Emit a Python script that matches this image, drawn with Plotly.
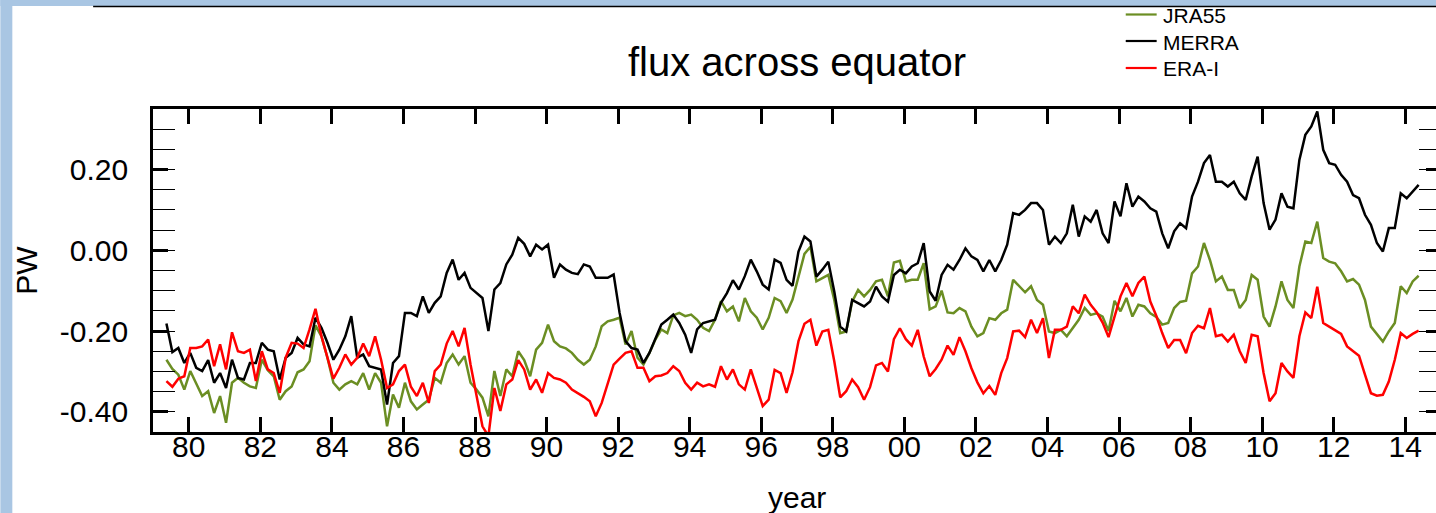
import plotly.graph_objects as go

# Cross-equatorial energy flux (PW), bimonthly samples starting mid-May 1979
years_start = 1979 + 4.5 / 12
years_step = 2 / 12

merra = [
    -0.181, -0.252, -0.242, -0.279, -0.254, -0.291, -0.299, -0.272, -0.328, -0.304,
    -0.341, -0.271, -0.316, -0.320, -0.279, -0.279, -0.229, -0.246, -0.250, -0.320,
    -0.266, -0.254, -0.217, -0.233, -0.238, -0.167, -0.192, -0.229, -0.271, -0.246,
    -0.213, -0.163, -0.266, -0.258, -0.287, -0.291, -0.295, -0.382, -0.279, -0.262,
    -0.155, -0.155, -0.163, -0.114, -0.155, -0.130, -0.114, -0.056, -0.023, -0.073,
    -0.056, -0.093, -0.105, -0.118, -0.200, -0.097, -0.081, -0.035, -0.011, 0.031,
    0.016, -0.015, 0.014, 0.002, 0.014, -0.068, -0.035, -0.048, -0.056, -0.059,
    -0.035, -0.040, -0.068, -0.068, -0.068, -0.060, -0.155, -0.225, -0.242, -0.246,
    -0.279, -0.254, -0.221, -0.184, -0.172, -0.159, -0.180, -0.209, -0.254, -0.196,
    -0.180, -0.176, -0.172, -0.130, -0.106, -0.074, -0.097, -0.064, -0.023, -0.052,
    -0.085, -0.097, -0.023, -0.031, -0.073, -0.088, -0.003, 0.034, 0.022, -0.065,
    -0.048, -0.028, -0.102, -0.189, -0.201, -0.123, -0.131, -0.139, -0.127, -0.090,
    -0.114, -0.127, -0.061, -0.048, -0.057, -0.040, -0.032, 0.018, -0.102, -0.125,
    -0.061, -0.036, -0.048, -0.024, 0.005, -0.015, -0.024, -0.052, -0.024, -0.052,
    -0.024, 0.014, 0.092, 0.088, 0.100, 0.117, 0.117, 0.100, 0.014, 0.034,
    0.018, 0.042, 0.113, 0.034, 0.084, 0.071, 0.100, 0.042, 0.018, 0.121,
    0.084, 0.166, 0.108, 0.133, 0.121, 0.104, 0.096, 0.042, 0.005, 0.047,
    0.067, 0.055, 0.133, 0.170, 0.216, 0.236, 0.170, 0.170, 0.158, 0.170,
    0.141, 0.125, 0.183, 0.232, 0.117, 0.051, 0.076, 0.141, 0.108, 0.104,
    0.224, 0.286, 0.307, 0.344, 0.249, 0.216, 0.212, 0.187, 0.170, 0.137,
    0.129, 0.088, 0.063, 0.018, -0.003, 0.055, 0.055, 0.141, 0.129, 0.146,
    0.162,
]

jra55 = [
    -0.271, -0.294, -0.308, -0.345, -0.299, -0.328, -0.361, -0.349, -0.403, -0.361,
    -0.427, -0.328, -0.316, -0.328, -0.337, -0.341, -0.271, -0.297, -0.312, -0.370,
    -0.349, -0.337, -0.302, -0.295, -0.275, -0.186, -0.213, -0.266, -0.328, -0.345,
    -0.332, -0.324, -0.332, -0.304, -0.345, -0.304, -0.328, -0.436, -0.357, -0.390,
    -0.328, -0.374, -0.394, -0.382, -0.370, -0.316, -0.328, -0.279, -0.258, -0.283,
    -0.262, -0.328, -0.345, -0.365, -0.411, -0.299, -0.361, -0.295, -0.312, -0.250,
    -0.272, -0.312, -0.246, -0.229, -0.184, -0.225, -0.238, -0.243, -0.254, -0.271,
    -0.283, -0.271, -0.238, -0.188, -0.176, -0.172, -0.167, -0.233, -0.200, -0.266,
    -0.283, -0.254, -0.221, -0.196, -0.205, -0.161, -0.155, -0.163, -0.159, -0.172,
    -0.192, -0.200, -0.172, -0.126, -0.151, -0.139, -0.176, -0.118, -0.151, -0.167,
    -0.196, -0.167, -0.118, -0.126, -0.155, -0.122, -0.062, -0.009, 0.009, -0.077,
    -0.069, -0.061, -0.123, -0.205, -0.201, -0.127, -0.098, -0.114, -0.098, -0.077,
    -0.073, -0.114, -0.030, -0.026, -0.077, -0.073, -0.073, -0.032, -0.146, -0.139,
    -0.100, -0.154, -0.156, -0.143, -0.151, -0.189, -0.213, -0.205, -0.168, -0.172,
    -0.156, -0.147, -0.073, -0.089, -0.104, -0.089, -0.123, -0.135, -0.201, -0.205,
    -0.197, -0.213, -0.193, -0.172, -0.143, -0.160, -0.156, -0.164, -0.200, -0.125,
    -0.151, -0.118, -0.164, -0.135, -0.139, -0.156, -0.165, -0.184, -0.180, -0.143,
    -0.128, -0.125, -0.057, -0.040, 0.018, -0.024, -0.077, -0.065, -0.098, -0.098,
    -0.143, -0.123, -0.061, -0.073, -0.164, -0.189, -0.139, -0.077, -0.123, -0.143,
    -0.040, 0.022, 0.018, 0.071, -0.019, -0.028, -0.032, -0.052, -0.077, -0.071,
    -0.085, -0.123, -0.189, -0.209, -0.226, -0.201, -0.180, -0.089, -0.106, -0.077,
    -0.063,
]

erai = [
    -0.324, -0.338, -0.318, -0.312, -0.242, -0.242, -0.238, -0.221, -0.287, -0.233,
    -0.295, -0.203, -0.250, -0.254, -0.246, -0.324, -0.250, -0.295, -0.304, -0.353,
    -0.266, -0.229, -0.231, -0.242, -0.196, -0.145, -0.213, -0.266, -0.318, -0.291,
    -0.258, -0.283, -0.266, -0.231, -0.262, -0.213, -0.271, -0.341, -0.332, -0.299,
    -0.283, -0.338, -0.361, -0.328, -0.378, -0.299, -0.283, -0.231, -0.200, -0.238,
    -0.192, -0.283, -0.360, -0.436, -0.460, -0.341, -0.398, -0.332, -0.320, -0.272,
    -0.295, -0.345, -0.320, -0.353, -0.304, -0.316, -0.320, -0.328, -0.345, -0.353,
    -0.363, -0.374, -0.411, -0.378, -0.328, -0.283, -0.268, -0.254, -0.250, -0.291,
    -0.291, -0.324, -0.312, -0.310, -0.304, -0.287, -0.299, -0.328, -0.345, -0.328,
    -0.337, -0.332, -0.338, -0.287, -0.320, -0.295, -0.332, -0.345, -0.295, -0.338,
    -0.386, -0.370, -0.296, -0.304, -0.353, -0.302, -0.225, -0.182, -0.172, -0.236,
    -0.201, -0.197, -0.275, -0.364, -0.349, -0.320, -0.339, -0.370, -0.339, -0.285,
    -0.279, -0.300, -0.220, -0.193, -0.220, -0.236, -0.197, -0.263, -0.312, -0.294,
    -0.271, -0.236, -0.259, -0.215, -0.250, -0.292, -0.327, -0.354, -0.336, -0.358,
    -0.304, -0.267, -0.201, -0.199, -0.215, -0.172, -0.205, -0.168, -0.267, -0.197,
    -0.197, -0.189, -0.139, -0.156, -0.110, -0.135, -0.153, -0.179, -0.215, -0.164,
    -0.114, -0.081, -0.114, -0.081, -0.065, -0.127, -0.162, -0.205, -0.242, -0.222,
    -0.222, -0.255, -0.205, -0.187, -0.193, -0.143, -0.213, -0.209, -0.226, -0.209,
    -0.250, -0.279, -0.209, -0.213, -0.304, -0.374, -0.354, -0.279, -0.300, -0.316,
    -0.213, -0.154, -0.168, -0.090, -0.180, -0.189, -0.197, -0.207, -0.238, -0.250,
    -0.261, -0.308, -0.354, -0.360, -0.358, -0.325, -0.271, -0.205, -0.217, -0.207,
    -0.199,
]

years = [years_start + i * years_step for i in range(len(merra))]

x_tickvals = list(range(1980, 2015, 2))
x_ticktext = [f"{v % 100:02d}" for v in x_tickvals]
y_tickvals = [-0.4, -0.2, 0.0, 0.2]
y_ticktext = ["-0.40", "-0.20", "0.00", "0.20"]

series_names = ["JRA55", "MERRA", "ERA-I"]
series_values = [jra55, merra, erai]
series_colors = ["#6b8e23", "#000000", "#ff0000"]

FONT = "Liberation Sans, Arial, Helvetica, sans-serif"

# figure / plot-area geometry in pixels
W, H = 1452, 513
L, R, T, B = 153, 8, 109, 81
PW_ = W - L - R
PH_ = H - T - B


def px_x(X):
    return (X - L) / PW_


def px_y(Y):
    return (H - B - Y) / PH_


fig = go.Figure()
for name, vals, color in zip(series_names, series_values, series_colors):
    fig.add_trace(go.Scatter(
        x=years, y=vals, mode="lines", name=name,
        line=dict(color=color, width=2.5),
        showlegend=False,
    ))

axis_common = dict(
    showgrid=False, zeroline=False, showline=True, linecolor="black",
    linewidth=2.6, mirror="ticks", ticks="inside", tickcolor="black",
    tickwidth=2.6, ticklen=15,
    tickfont=dict(family=FONT, size=30, color="black"),
)

fig.update_xaxes(
    range=[1979, 2015], tickmode="array", tickvals=x_tickvals,
    ticktext=x_ticktext, ticklabelstandoff=-14, **axis_common,
)
fig.update_yaxes(
    range=[-0.45, 0.35], tickmode="array", tickvals=y_tickvals,
    ticktext=y_ticktext, ticklabelstandoff=16,
    minor=dict(tickmode="linear", tick0=0, dtick=0.05, ticks="inside",
               ticklen=22, tickwidth=1.3, tickcolor="black"),
    **axis_common,
)

shapes = [
    # window frame strips
    dict(type="rect", xref="paper", yref="paper", x0=px_x(0), x1=px_x(12),
         y0=px_y(H), y1=px_y(0), fillcolor="#a9c6e3", line=dict(width=0),
         layer="above"),
    dict(type="rect", xref="paper", yref="paper", x0=px_x(0), x1=px_x(W),
         y0=px_y(6), y1=px_y(0), fillcolor="#a9c6e3", line=dict(width=0),
         layer="above"),
    dict(type="line", xref="paper", yref="paper", x0=px_x(93), x1=px_x(W),
         y0=px_y(6.5), y1=px_y(6.5), line=dict(color="black", width=1.6),
         layer="above"),
]

annotations = [
    dict(text="flux across equator", xref="paper", yref="paper",
         x=0.5, y=px_y(62), xanchor="center", yanchor="middle",
         showarrow=False, font=dict(family=FONT, size=40, color="black")),
    dict(text="year", xref="paper", yref="paper",
         x=0.5, y=px_y(497.6), xanchor="center", yanchor="middle",
         showarrow=False, font=dict(family=FONT, size=30, color="black")),
    dict(text="PW", xref="paper", yref="paper", textangle=-90,
         x=px_x(26), y=0.5, xanchor="center", yanchor="middle",
         showarrow=False, font=dict(family=FONT, size=30, color="black")),
]

# legend: short line sample followed by the series name
legend_rows = [14.5, 41, 68]
for name, color, ry in zip(series_names, series_colors, legend_rows):
    shapes.append(dict(type="line", xref="paper", yref="paper",
                       x0=px_x(1128), x1=px_x(1159), y0=px_y(ry), y1=px_y(ry),
                       line=dict(color=color, width=2.2)))
    annotations.append(dict(text=name, xref="paper", yref="paper",
                            x=px_x(1163), y=px_y(ry + 1), xanchor="left",
                            yanchor="middle", showarrow=False,
                            font=dict(family=FONT, size=21, color="black")))

fig.update_layout(
    width=W, height=H, autosize=False,
    margin=dict(l=L, r=R, t=T, b=B, pad=0),
    paper_bgcolor="white", plot_bgcolor="white",
    font=dict(family=FONT, color="black"),
    shapes=shapes, annotations=annotations,
    showlegend=False,
)

fig.write_html(
    "out.html",
    post_script=(
        "document.documentElement.style.overflow='hidden';"
        "document.body.style.overflow='hidden';"
        "document.body.style.margin='0';"
    ),
)
